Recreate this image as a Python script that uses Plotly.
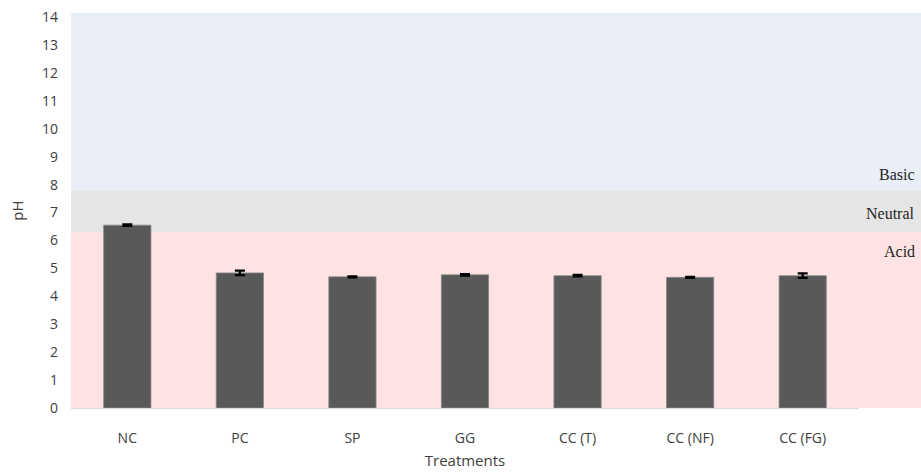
import plotly.graph_objects as go

categories = ["NC", "PC", "SP", "GG", "CC (T)", "CC (NF)", "CC (FG)"]
ph_values = [6.55, 4.84, 4.70, 4.77, 4.74, 4.68, 4.74]
ph_errors = [0.03, 0.08, 0.02, 0.03, 0.03, 0.015, 0.08]

band_names = ["Acid", "Neutral", "Basic"]
band_low = [0, 6.3, 7.8]
band_high = [6.3, 7.8, 14.15]
band_colors = ["#FFE3E4", "#E5E5E5", "#E9EEF7"]
label_y = [5.6, 6.95, 8.35]

y_ticks = list(range(0, 15))

fig = go.Figure()

fig.add_trace(go.Bar(
    x=categories, y=ph_values,
    width=0.42,
    marker=dict(color="#595959", line=dict(color="#8a8a8a", width=0.8)),
    error_y=dict(type="data", array=ph_errors, color="black", thickness=2.2, width=5),
    showlegend=False,
))

shapes = []
annotations = []
for name, lo, hi, col, ly in zip(band_names, band_low, band_high, band_colors, label_y):
    shapes.append(dict(type="rect", xref="paper", yref="y", x0=0, x1=1.08,
                       y0=lo, y1=hi, fillcolor=col, line=dict(width=0), layer="below"))
    annotations.append(dict(xref="paper", yref="y", x=1.074, y=ly, text=name,
                            showarrow=False, xanchor="right", yanchor="middle",
                            font=dict(family="Liberation Serif", size=16, color="#262626")))

fig.update_layout(
    width=921, height=473,
    margin=dict(l=71, r=62, t=13, b=65, autoexpand=False),
    plot_bgcolor="rgba(0,0,0,0)", paper_bgcolor="white",
    shapes=shapes, annotations=annotations,
    font=dict(family="Open Sans", size=14, color="#404040"),
    xaxis=dict(
        range=[-0.5, 6.5], showgrid=False, showline=True, linecolor="#D9D9D9", linewidth=1,
        ticks="", tickfont=dict(size=14, color="#404040"), automargin=False,
        ticklabelstandoff=17,
        title=dict(text="Treatments", font=dict(size=15, color="#404040"), standoff=9),
    ),
    yaxis=dict(
        range=[0, 14.15], tickvals=y_ticks, showgrid=False, zeroline=False, showline=False,
        ticks="", tickfont=dict(size=14, color="#404040"), automargin=False,
        ticklabelstandoff=12,
        title=dict(text="pH", font=dict(size=15, color="#404040"), standoff=14),
    ),
)

fig.write_html("out.html", config={"displayModeBar": False},
               post_script="document.body.style.margin='0';document.body.style.overflow='hidden';")
